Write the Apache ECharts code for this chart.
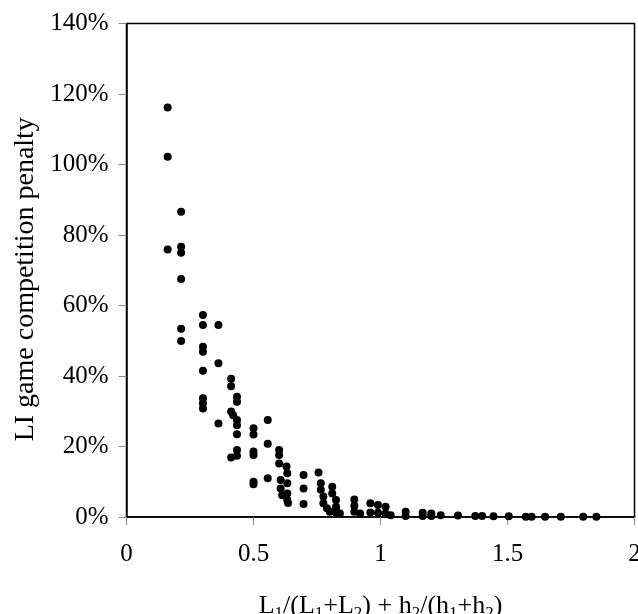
<!DOCTYPE html>
<html>
<head>
<meta charset="utf-8">
<script src="https://cdn.jsdelivr.net/npm/echarts@6/dist/echarts.min.js"></script>
<style>html,body{margin:0;padding:0;background:#fff}#c{width:638px;height:614px}</style>
</head>
<body>
<div id="c"></div>
<script>
// x value: L1/(L1+L2) + h2/(h1+h2); y value: LI game competition penalty (%)
const xValues = [
  0.162, 0.162, 0.162,
  0.215, 0.215, 0.215, 0.215, 0.215, 0.215,
  0.301, 0.301, 0.301, 0.301, 0.301, 0.301, 0.301, 0.301,
  0.362, 0.362, 0.362,
  0.412, 0.412, 0.412, 0.412, 0.42,
  0.435, 0.435, 0.435, 0.435, 0.435, 0.435, 0.435,
  0.5, 0.5, 0.5, 0.5, 0.5, 0.5,
  0.556, 0.556, 0.556,
  0.601, 0.601, 0.601, 0.607, 0.607, 0.613,
  0.63, 0.633, 0.633, 0.633, 0.633, 0.636,
  0.697, 0.697, 0.697,
  0.756, 0.765, 0.765, 0.775, 0.775, 0.789,
  0.81, 0.81, 0.825, 0.825, 0.825, 0.825, 0.8, 0.84,
  0.897, 0.897, 0.897, 0.92,
  0.96, 0.96, 0.99, 0.99, 1.02, 1.02, 1.04,
  1.099, 1.099, 1.166, 1.166, 1.2, 1.2, 1.237,
  1.305, 1.373, 1.4, 1.445, 1.505, 1.572, 1.595, 1.648, 1.71, 1.798, 1.85
];
const yValues = [
  116.2, 102.2, 75.9,
  86.6, 76.7, 75.0, 67.5, 53.4, 49.9,
  57.3, 54.5, 48.3, 46.9, 41.5, 33.7, 32.3, 30.8,
  54.5, 43.6, 26.5,
  39.2, 37.1, 29.9, 16.9, 28.9,
  34.1, 32.7, 27.5, 26.0, 23.5, 19.0, 17.4,
  25.2, 23.4, 18.6, 17.6, 10.0, 9.3,
  27.5, 20.8, 11.0,
  19.0, 17.6, 15.2, 10.5, 8.1, 6.2,
  14.3, 12.4, 9.6, 6.7, 4.8, 4.0,
  11.9, 8.1, 3.7,
  12.6, 9.6, 7.7, 5.8, 3.9, 2.5,
  8.6, 6.7, 4.8, 2.9, 2.0, 1.2, 1.5, 1.0,
  5.0, 3.2, 1.5, 1.0,
  3.9, 1.3, 3.4, 1.2, 2.9, 1.0, 0.5,
  1.5, 0.3, 1.2, 0.3, 1.0, 0.3, 0.5,
  0.4, 0.3, 0.3, 0.2, 0.2, 0.1, 0.1, 0.1, 0.1, 0.1, 0.1
];
const xTicks = [0, 0.5, 1, 1.5, 2];
const yTicks = [0, 20, 40, 60, 80, 100, 120, 140];

const points = xValues.map((x, i) => [x, yValues[i]]);
const FONT = '"Liberation Serif", "Times New Roman", serif';

const chart = echarts.init(document.getElementById('c'), null, {renderer: 'canvas'});
chart.setOption({
  animation: false,
  backgroundColor: '#fff',
  grid: {
    left: 126.5, right: 3.5, top: 23.5, bottom: 97,
    containLabel: false, outerBoundsMode: 'none',
    show: true, borderColor: '#000', borderWidth: 1.5, backgroundColor: 'transparent'
  },
  xAxis: {
    type: 'value',
    min: xTicks[0], max: xTicks[xTicks.length - 1], interval: 0.5,
    name: 'L{s|1}/(L{s|1}+L{s|2}) + h{s|2}/(h{s|1}+h{s|2})',
    nameLocation: 'middle', nameGap: 74,
    nameTextStyle: {
      fontFamily: FONT, fontSize: 26, color: '#000',
      rich: { s: { fontFamily: FONT, fontSize: 17, color: '#000', verticalAlign: 'bottom', padding: [14, 0, 0, 0] } }
    },
    axisLine: { lineStyle: { color: '#000', width: 1.5 } },
    axisTick: { show: true, inside: false, length: 8, lineStyle: { color: '#888', width: 1 } },
    axisLabel: { fontFamily: FONT, fontSize: 25, color: '#000', margin: 25,
      formatter: v => String(v) },
    splitLine: { show: false }
  },
  yAxis: {
    type: 'value',
    min: yTicks[0], max: yTicks[yTicks.length - 1], interval: 20,
    name: 'LI game competition penalty',
    nameLocation: 'middle', nameGap: 87, nameRotate: 90,
    nameTextStyle: { fontFamily: FONT, fontSize: 28, color: '#000', padding: [0, 18, 0, 0] },
    axisLine: { lineStyle: { color: '#000', width: 1.5 } },
    axisTick: { show: true, inside: false, length: 8, lineStyle: { color: '#888', width: 1 } },
    axisLabel: { fontFamily: FONT, fontSize: 25, color: '#000', margin: 18,
      formatter: v => v + '%' },
    splitLine: { show: false }
  },
  series: [{
    type: 'scatter',
    data: points,
    symbol: 'circle',
    symbolSize: 8,
    itemStyle: { color: '#000', opacity: 1 }
  }]
});
</script>
</body>
</html>
